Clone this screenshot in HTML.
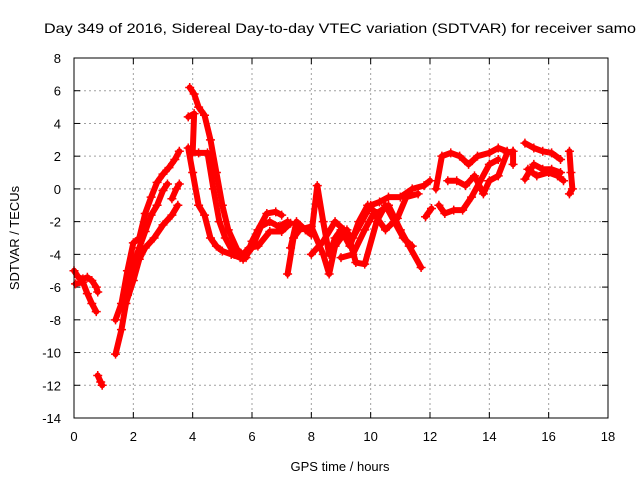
<!DOCTYPE html>
<html><head><meta charset="utf-8"><style>
body{margin:0;background:#fff}
svg{display:block;font-family:"Liberation Sans",sans-serif}
</style></head><body>
<svg id="c" width="640" height="480">
<text x="44" y="33" font-size="14" textLength="592" lengthAdjust="spacingAndGlyphs" fill="#000">Day 349 of 2016, Sidereal Day-to-day VTEC variation (SDTVAR) for receiver samo</text>
<text x="340" y="471" font-size="13" text-anchor="middle">GPS time / hours</text>
<text transform="translate(19,238) rotate(-90)" font-size="13" text-anchor="middle">SDTVAR / TECUs</text>
<g id="grid"></g><g id="ticks"></g><g id="series"></g>
<rect x="74" y="58" width="534" height="360" fill="none" stroke="#000" stroke-width="1"/>
</svg>
<script>
const xTicks=[0,2,4,6,8,10,12,14,16,18];
const yTicks=[8,6,4,2,0,-2,-4,-6,-8,-10,-12,-14];
const traceA=[[0,-5],[0.15,-5.4],[0.3,-5.5],[0.45,-5.4],[0.6,-5.6],[0.75,-6],[0.8,-6.3]];
const traceA2=[[0.05,-5.8],[0.3,-5.7],[0.45,-6.4],[0.6,-7],[0.75,-7.5]];
const traceB=[[0.8,-11.4],[0.9,-11.8],[0.95,-12]];
const traceC=[[1.4,-8],[1.6,-7],[1.8,-5],[2,-3.3],[2.2,-3],[2.4,-1.5],[2.6,-0.5],[2.8,0.4],[3,0.9],[3.2,1.3],[3.4,1.8],[3.55,2.3]];
const traceD=[[1.4,-10.1],[1.6,-8.6],[1.8,-6.5],[2,-4.6],[2.2,-3.6],[2.4,-2.6],[2.6,-1.6],[2.8,-1],[3,-0.1],[3.15,0.3]];
const traceE=[[1.75,-7],[2,-5.6],[2.2,-4.3],[2.4,-3.6],[2.7,-3],[3,-2.2],[3.3,-1.6],[3.5,-1]];
const traceE2=[[3.3,-0.6],[3.45,0],[3.55,0.3]];
const traceF=[[3.9,6.2],[4.05,5.8],[4.2,5],[4.4,4.5],[4.6,3],[4.8,1],[5,-1],[5.2,-2.5],[5.5,-3.7],[5.8,-4.2],[6,-3.2],[6.2,-2.5],[6.5,-1.5],[6.8,-1.4],[7,-1.6]];
const traceG=[[3.85,4.4],[4.05,4.6],[4,2.2],[4.2,2.2],[4.5,2.2],[4.7,0],[4.9,-2],[5.1,-3],[5.4,-4],[5.7,-4.3],[6,-3.6],[6.3,-2.3],[6.6,-2],[6.9,-2.3],[7.2,-2]];
const traceH=[[3.85,2.5],[4,1],[4.2,-1],[4.4,-1.6],[4.6,-3],[4.8,-3.5],[5,-3.8],[5.3,-4],[5.6,-4.2],[5.9,-3.6],[6.2,-3.5],[6.6,-2.6],[7,-2.6],[7.3,-2.1]];
const traceI=[[7.3,-3.6],[7.5,-2],[7.8,-2.5],[8,-2.8],[8.2,0.2],[8.4,-2],[8.6,-4],[8.8,-3],[9,-2.5],[9.3,-3.5],[9.6,-2],[9.9,-1],[10.2,-1.5],[10.6,-1],[11,-2.5],[11.3,-3.5],[11.7,-4.8]];
const traceJ=[[7.2,-5.2],[7.4,-3],[7.6,-2.5],[8,-2.3],[8.4,-4],[8.6,-5.2],[8.8,-3.5],[9.2,-2.5],[9.5,-4.5],[9.8,-4.6],[10.2,-2],[10.5,-1],[10.8,-2],[11.1,-3],[11.4,-3.5]];
const traceK=[[8,-4],[8.4,-3.2],[8.8,-2],[9.1,-2.5],[9.4,-3],[9.7,-2],[10,-1],[10.3,-0.8],[10.6,-0.5],[11,-0.5],[11.4,0],[11.8,0.2],[12,0.5]];
const traceL=[[9,-4.2],[9.4,-4],[9.8,-2.5],[10.1,-1.5],[10.5,-2.5],[10.9,-1.8],[11.2,-0.5],[11.6,-0.3]];
const traceM=[[11.85,-1.7],[12.05,-1.2]];
const traceN=[[12.2,0],[12.4,2],[12.7,2.2],[13,2],[13.3,1.5],[13.6,2],[14,2.2],[14.3,2.5],[14.6,2.3]];
const traceO=[[12.3,-1],[12.5,-1.5],[12.8,-1.3],[13.1,-1.3],[13.4,-0.5],[13.7,0.5],[14,1.5],[14.3,1.8]];
const traceP=[[12.6,0.5],[12.9,0.5],[13.2,0.2],[13.5,0.8],[13.8,-0.3],[14,0.5],[14.3,0.8],[14.6,2.2],[14.8,2.3]];
const traceQ=[[15.2,2.8],[15.5,2.5],[15.8,2.3],[16.1,2.2],[16.4,1.8]];
const traceQ2=[[15.2,0.6],[15.5,1.5],[15.8,1.2],[16.1,1.2],[16.4,1]];
const traceQ3=[[15.3,1.2],[15.6,0.8],[16,1],[16.3,0.8],[16.5,0.5]];
const traceR=[[16.7,2.3],[16.75,1],[16.8,0],[16.7,-0.3]];
const traceS=[[14.8,2.3],[14.8,1.5]];
const allTraces=[traceA,traceA2,traceB,traceC,traceD,traceE,traceE2,traceF,traceG,traceH,traceI,traceJ,traceK,traceL,traceM,traceN,traceO,traceP,traceQ,traceQ2,traceQ3,traceR,traceS];

const NS="http://www.w3.org/2000/svg";
const X0=74,X1=608,Y0=418,Y1=58;
function xs(v){return X0+(v-0)/(18-0)*(X1-X0);}
function ys(v){return Y0-(v-(-14))/(22)*(Y0-Y1);}
function mk(tag,attrs,parent){const e=document.createElementNS(NS,tag);for(const k in attrs)e.setAttribute(k,attrs[k]);parent.appendChild(e);return e;}
const grid=document.getElementById('grid'),ticks=document.getElementById('ticks'),series=document.getElementById('series');
xTicks.forEach(t=>{
 const x=xs(t);
 if(t>0&&t<18){const l=mk('line',{x1:x,x2:x,y1:Y1,y2:Y0,stroke:'#a0a0a0','stroke-dasharray':'2,3'},grid);
 
 }
 const tx=mk('text',{x:x,y:441,'font-size':'13','text-anchor':'middle'},ticks);tx.textContent=t;
 
 
 mk('line',{x1:x,x2:x,y1:Y0,y2:Y0-6,stroke:'#000'},ticks);
 mk('line',{x1:x,x2:x,y1:Y1,y2:Y1+6,stroke:'#000'},ticks);
});
yTicks.forEach(t=>{
 const y=ys(t);
 if(t>-14&&t<8){const l=mk('line',{x1:X0,x2:X1,y1:y,y2:y,stroke:'#a0a0a0','stroke-dasharray':'2,3'},grid);
 
 }
 const tx=mk('text',{x:61,y:y+5,'font-size':'13','text-anchor':'end'},ticks);tx.textContent=t;
 
 
 mk('line',{x1:X0,x2:X0+6,y1:y,y2:y,stroke:'#000'},ticks);
 mk('line',{x1:X1,x2:X1-6,y1:y,y2:y,stroke:'#000'},ticks);
});
allTraces.forEach(tr=>{
 const pts=tr.map(p=>xs(p[0])+','+ys(p[1])).join(' ');
 const pl=mk('polyline',{points:pts,fill:'none',stroke:'#ff0000','stroke-width':'6','stroke-linejoin':'round','stroke-linecap':'round'},series);
 
 
 tr.forEach(p=>{
  const x=xs(p[0]),y=ys(p[1]);
  const m=mk('path',{d:`M${x-4.5},${y}H${x+4.5}M${x},${y-4.5}V${y+4.5}`,stroke:'#ff0000','stroke-width':'1.5'},series);
  
  
 });
});
</script>
</body></html>
